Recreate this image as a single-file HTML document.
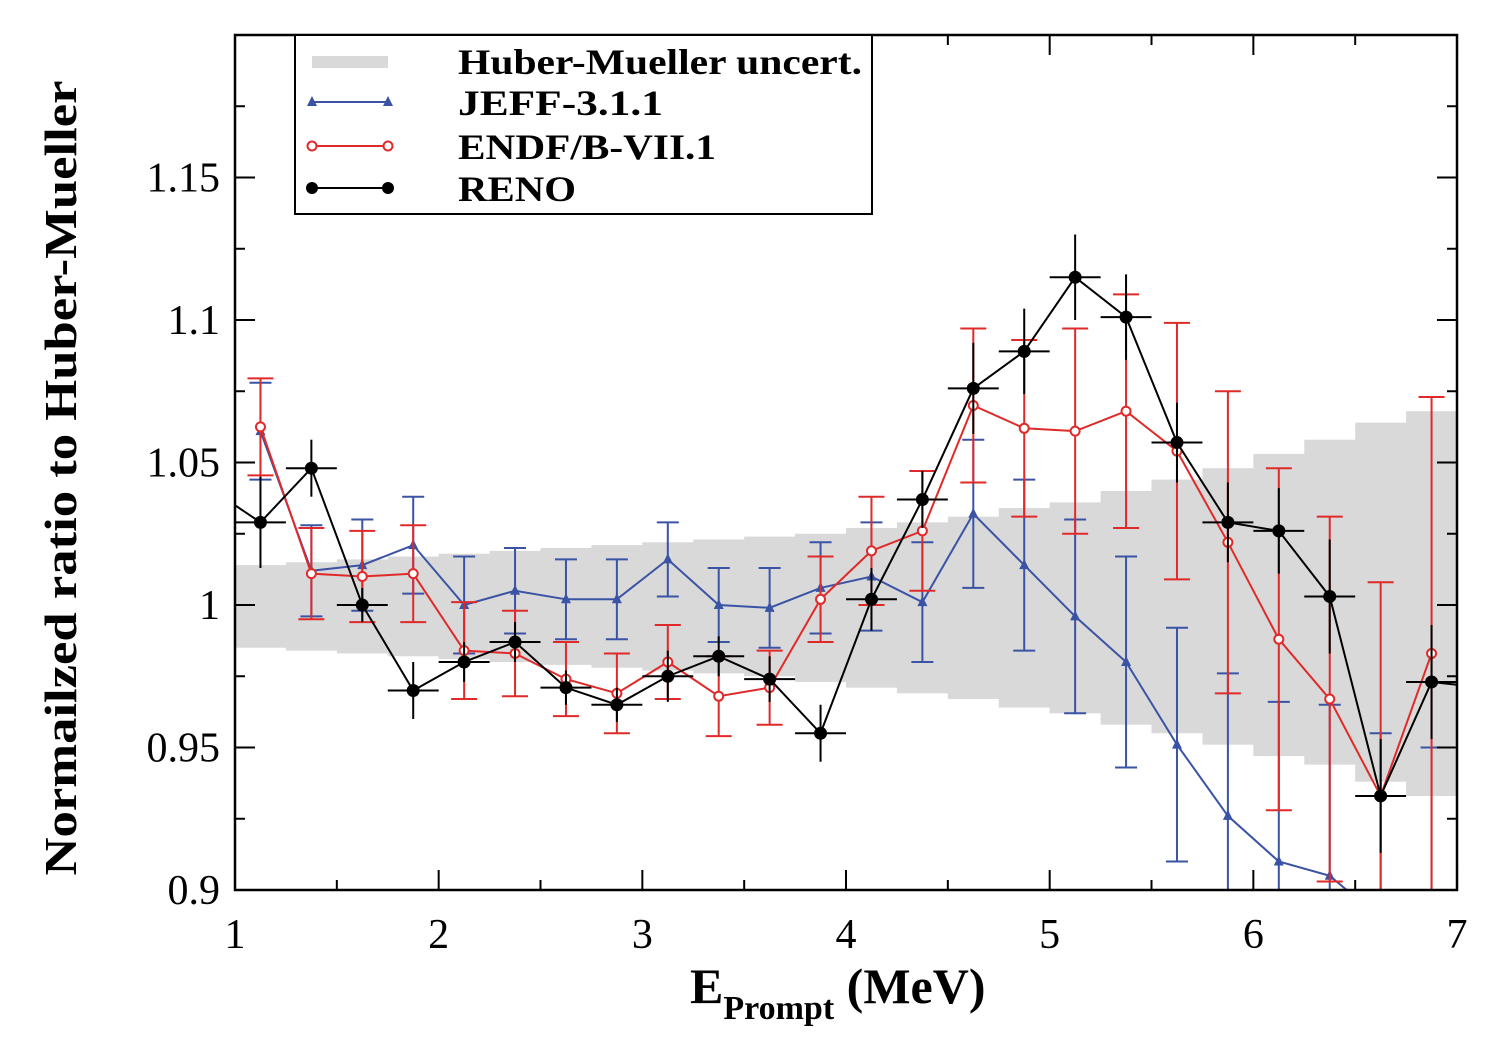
<!DOCTYPE html>
<html><head><meta charset="utf-8"><style>
html,body{margin:0;padding:0;background:#fff;overflow:hidden;width:1500px;height:1050px;}
svg{display:block;font-family:"Liberation Serif",serif;}
</style></head><body>
<svg id="chart" width="1500" height="1050" viewBox="0 0 1500 1050">
<defs><clipPath id="clip"><rect x="235" y="35" width="1222" height="855"/></clipPath></defs>
<g id="band" clip-path="url(#clip)"></g>
<g id="series" clip-path="url(#clip)"></g>
<rect x="235" y="35" width="1222" height="855" fill="none" stroke="#000" stroke-width="2.5"/>
<g id="axes"></g>
<text x="690" y="1003" font-weight="bold" font-size="50">E<tspan font-size="34" dy="16">Prompt</tspan><tspan dy="-16"> (MeV)</tspan></text>
<text transform="translate(76,478) rotate(-90)" text-anchor="middle" font-weight="bold" font-size="46" textLength="795" lengthAdjust="spacingAndGlyphs">Normailzed ratio to Huber-Mueller</text>
<g>
<rect x="295" y="35" width="577" height="179" fill="#fff" stroke="#000" stroke-width="2"/>
<rect x="312" y="56" width="76" height="12" fill="#d9d9d9"/>
<text x="458" y="74" font-weight="bold" font-size="36" textLength="404" lengthAdjust="spacingAndGlyphs">Huber-Mueller uncert.</text>
<line x1="312" y1="102" x2="388" y2="102" stroke="#3a53a4" stroke-width="2"/>
<path d="M312 96 L317 106 L307 106Z M388 96 L393 106 L383 106Z" fill="#3a53a4"/>
<text x="458" y="115" font-weight="bold" font-size="36" textLength="205" lengthAdjust="spacingAndGlyphs">JEFF-3.1.1</text>
<line x1="312" y1="146" x2="388" y2="146" stroke="#e02a2a" stroke-width="2"/>
<circle cx="312" cy="146" r="4.5" fill="#fff" stroke="#e02a2a" stroke-width="2"/><circle cx="388" cy="146" r="4.5" fill="#fff" stroke="#e02a2a" stroke-width="2"/>
<text x="458" y="159" font-weight="bold" font-size="36" textLength="258" lengthAdjust="spacingAndGlyphs">ENDF/B-VII.1</text>
<line x1="312" y1="188" x2="388" y2="188" stroke="#000" stroke-width="2"/>
<circle cx="312" cy="188" r="6" fill="#000"/><circle cx="388" cy="188" r="6" fill="#000"/>
<text x="458" y="201" font-weight="bold" font-size="36" textLength="118" lengthAdjust="spacingAndGlyphs">RENO</text>
</g>
</svg>
<script>
const xCenters = [1.125,1.375,1.625,1.875,2.125,2.375,2.625,2.875,3.125,3.375,3.625,3.875,4.125,4.375,4.625,4.875,5.125,5.375,5.625,5.875,6.125,6.375,6.625,6.875];
const renoValues = [1.029,1.048,1.0,0.970,0.980,0.987,0.971,0.965,0.975,0.982,0.974,0.955,1.002,1.037,1.076,1.089,1.115,1.101,1.057,1.029,1.026,1.003,0.933,0.973];
const renoErrors = [0.016,0.010,0.006,0.010,0.007,0.007,0.006,0.006,0.009,0.007,0.008,0.010,0.011,0.010,0.016,0.015,0.015,0.015,0.014,0.014,0.015,0.020,0.020,0.020];
const endfValues = [1.0625,1.011,1.010,1.011,0.984,0.983,0.974,0.969,0.980,0.968,0.971,1.002,1.019,1.026,1.070,1.062,1.061,1.068,1.054,1.022,0.988,0.967,0.933,0.983];
const endfErrors = [0.017,0.016,0.016,0.017,0.017,0.015,0.013,0.014,0.013,0.014,0.013,0.015,0.019,0.021,0.027,0.031,0.036,0.041,0.045,0.053,0.060,0.064,0.075,0.090];
const jeffValues = [1.061,1.012,1.014,1.021,1.0,1.005,1.002,1.002,1.016,1.0,0.999,1.006,1.010,1.001,1.032,1.014,0.996,0.980,0.951,0.926,0.910,0.905,0.89,0.88];
const jeffErrors = [0.017,0.016,0.016,0.017,0.017,0.015,0.014,0.014,0.013,0.013,0.014,0.016,0.019,0.021,0.026,0.030,0.034,0.037,0.041,0.050,0.056,0.060,0.065,0.07];
const bandStarts = [1,1.25,1.5,1.75,2,2.25,2.5,2.75,3,3.25,3.5,3.75,4,4.25,4.5,4.75,5,5.25,5.5,5.75,6,6.25,6.5,6.75];
const bandUpper = [1.014,1.015,1.016,1.017,1.018,1.019,1.020,1.021,1.022,1.023,1.024,1.025,1.027,1.029,1.031,1.034,1.036,1.040,1.044,1.048,1.053,1.058,1.064,1.068];
const bandLower = [0.985,0.984,0.983,0.982,0.981,0.980,0.979,0.978,0.977,0.976,0.975,0.973,0.971,0.969,0.967,0.964,0.962,0.958,0.955,0.951,0.947,0.944,0.938,0.933];
const xTicks = [1,2,3,4,5,6,7];
const yTicks = [0.9,0.95,1,1.05,1.1,1.15];
const yTickLabels = ["0.9","0.95","1","1.05","1.1","1.15"];

const X = v => 235 + (v - 1) * 203.67;
const Y = v => 605 - (v - 1) * 2850;
const NS = "http://www.w3.org/2000/svg";
function mk(tag, attrs, parent){const e=document.createElementNS(NS,tag);for(const k in attrs)e.setAttribute(k,attrs[k]);parent.appendChild(e);return e;}

const band = document.getElementById('band');
bandStarts.forEach((s,i)=>{
  const r = mk('rect',{x:X(s),y:Y(bandUpper[i]),width:X(s+0.25)-X(s)+0.5,height:Y(bandLower[i])-Y(bandUpper[i]),fill:'#d9d9d9'},band);
  
  
});

const ser = document.getElementById('series');
function drawSeries(vals, errs, color, kind, name, capw){
  const g = mk('g',{},ser);
  
  
  vals.forEach((v,i)=>{
    const x=X(xCenters[i]);
    mk('line',{x1:x,x2:x,y1:Y(v+errs[i]),y2:Y(v-errs[i]),stroke:color,'stroke-width':2},g);
    if(kind==='reno'){
      mk('line',{x1:X(xCenters[i]-0.125),x2:X(xCenters[i]+0.125),y1:Y(v),y2:Y(v),stroke:color,'stroke-width':2},g);
    } else {
      mk('line',{x1:x-capw,x2:x+capw,y1:Y(v+errs[i]),y2:Y(v+errs[i]),stroke:color,'stroke-width':2},g);
      mk('line',{x1:x-capw,x2:x+capw,y1:Y(v-errs[i]),y2:Y(v-errs[i]),stroke:color,'stroke-width':2},g);
    }
  });
  let pts = vals.map((v,i)=>X(xCenters[i])+','+Y(v));
  if(kind==='reno'){ pts.unshift(X(1)+','+Y(1.035)); pts.push(X(7)+','+Y(0.972)); }
  mk('polyline',{points:pts.join(' '),fill:'none',stroke:color,'stroke-width':2},g);
  vals.forEach((v,i)=>{
    const x=X(xCenters[i]), y=Y(v);
    let m;
    if(kind==='reno') m=mk('circle',{cx:x,cy:y,r:6.5,fill:color},g);
    else if(kind==='endf') m=mk('circle',{cx:x,cy:y,r:4.5,fill:'#fff',stroke:color,'stroke-width':2},g);
    else m=mk('path',{d:`M${x} ${y-6} L${x+5} ${y+4} L${x-5} ${y+4}Z`,fill:color},g);
    
    
  });
}
drawSeries(jeffValues, jeffErrors, '#3a53a4', 'jeff', 'jeff-series', 11);
drawSeries(endfValues, endfErrors, '#e02a2a', 'endf', 'endf-series', 13);
drawSeries(renoValues, renoErrors, '#000', 'reno', 'reno-series', 0);

const ax = document.getElementById('axes');
for(let v=1; v<=7.001; v+=0.5){
  const major = Math.abs(v-Math.round(v))<1e-6, L = major?20:10, x=X(v);
  mk('line',{x1:x,x2:x,y1:890,y2:890-L,stroke:'#000','stroke-width':2},ax);
  mk('line',{x1:x,x2:x,y1:35,y2:35+L,stroke:'#000','stroke-width':2},ax);
}
for(let v=0.9; v<=1.2001; v+=0.025){
  const major = Math.abs(v*20-Math.round(v*20))<1e-6, L = major?20:10, y=Y(v);
  mk('line',{x1:235,x2:235+L,y1:y,y2:y,stroke:'#000','stroke-width':2},ax);
  mk('line',{x1:1457,x2:1457-L,y1:y,y2:y,stroke:'#000','stroke-width':2},ax);
}
xTicks.forEach(v=>{
  const t=mk('text',{x:X(v),y:948,'text-anchor':'middle','font-size':42},ax);
  t.textContent=v;
  
  
});
yTicks.forEach((v,i)=>{
  const t=mk('text',{x:220,y:Y(v)+14,'text-anchor':'end','font-size':42},ax);
  t.textContent=yTickLabels[i];
  
  
});
</script>
</body></html>
